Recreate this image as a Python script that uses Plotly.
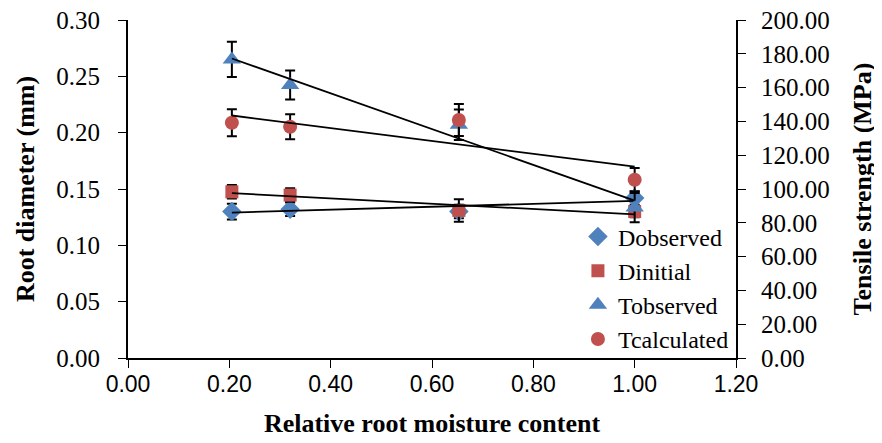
import numpy as np
import plotly.graph_objects as go

# Data
moisture = [0.205, 0.32, 0.653, 1.0]

d_observed = [0.130, 0.132, 0.130, 0.142]
d_observed_err = [0.007, 0.006, 0.006, 0.006]

d_initial = [0.1475, 0.1446, 0.131, 0.130]
d_initial_err = [0.006, 0.006, 0.010, 0.005]

t_observed = [176.7, 161.5, 138.0, 89.0]
t_observed_err = [10.5, 8.6, 9.0, 8.7]

t_calculated = [139.2, 136.8, 140.8, 105.5]
t_calculated_err = [8.0, 7.4, 9.5, 7.0]

x_ticks = [0.0, 0.2, 0.4, 0.6, 0.8, 1.0, 1.2]

BLUE = "#4F81BD"
RED = "#C0504D"
SERIF = "Liberation Serif"

fig = go.Figure()


def trend(x, y, yaxis):
    coef = np.polyfit(x, y, 1)
    xs = np.array([min(x), max(x)])
    fig.add_trace(go.Scatter(
        x=xs, y=np.polyval(coef, xs), mode="lines",
        line=dict(color="black", width=1.8), showlegend=False,
        hoverinfo="skip", yaxis=yaxis))


def series(name, x, y, err, color, symbol, yaxis, size):
    fig.add_trace(go.Scatter(
        x=x, y=y, name=name, mode="markers", yaxis=yaxis,
        marker=dict(color=color, symbol=symbol, size=size,
                    line=dict(width=0)),
        error_y=dict(type="data", array=err, visible=True,
                     color="black", thickness=2, width=5)))


series("Dobserved", moisture, d_observed, d_observed_err, BLUE, "diamond", "y", 15)
series("Dinitial", moisture, d_initial, d_initial_err, RED, "square", "y", 13)
series("Tobserved", moisture, t_observed, t_observed_err, BLUE, "triangle-up", "y2", 16)
series("Tcalculated", moisture, t_calculated, t_calculated_err, RED, "circle", "y2", 14)

trend(moisture, d_observed, "y")
trend(moisture, d_initial, "y")
trend(moisture, t_observed, "y2")
trend(moisture, t_calculated, "y2")

# page body has an 8px default margin, so the figure is sized to fit the window
fig.update_layout(
    width=874, height=435,
    margin=dict(l=120, r=146, t=12, b=85),
    plot_bgcolor="white", paper_bgcolor="white",
    showlegend=True,
    legend=dict(x=0.74, y=0.425, xanchor="left", yanchor="top",
                font=dict(family=SERIF, size=24, color="black"),
                bgcolor="rgba(0,0,0,0)", traceorder="normal",
                itemwidth=30),
    xaxis=dict(range=[0, 1.2], tickvals=x_ticks, tickformat=".2f",
               showgrid=False, zeroline=False, showline=True,
               linecolor="black", linewidth=2, ticks="outside",
               ticklen=8, tickwidth=1, tickcolor="black",
               automargin=False, ticklabeloverflow="allow",
               tickfont=dict(family="Liberation Sans", size=23, color="black"),
               ticklabelstandoff=-4,
               title=dict(text="<b>Relative root moisture content</b>",
                          font=dict(family=SERIF, size=26, color="black"),
                          standoff=18)),
    yaxis=dict(range=[0, 0.30], dtick=0.05, tickformat=".2f",
               showgrid=False, zeroline=False, showline=True,
               linecolor="black", linewidth=2, ticks="outside",
               ticklen=8, tickwidth=1, tickcolor="black",
               automargin=False, ticklabeloverflow="allow",
               tickfont=dict(family=SERIF, size=25, color="black"),
               ticklabelstandoff=13,
               title=dict(text="<b>Root diameter (mm)</b>",
                          font=dict(family=SERIF, size=26, color="black"),
                          standoff=14)),
    yaxis2=dict(range=[0, 200], dtick=20, tickformat=".2f",
                overlaying="y", side="right",
                showgrid=False, zeroline=False, showline=True,
                linecolor="black", linewidth=2, ticks="outside",
                ticklen=8, tickwidth=1, tickcolor="black",
                automargin=False, ticklabeloverflow="allow",
                tickfont=dict(family=SERIF, size=25, color="black"),
                ticklabelstandoff=10,
                title=dict(text="<b>Tensile strength (MPa)</b>",
                           font=dict(family=SERIF, size=26, color="black"),
                           standoff=24)),
)

fig.write_html("out.html")
